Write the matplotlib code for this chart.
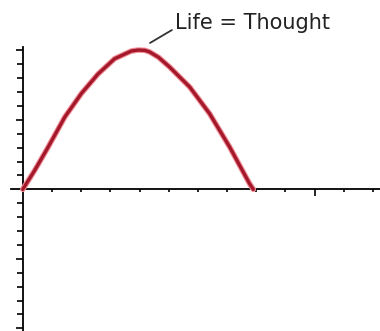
import matplotlib
matplotlib.use("Agg")
import matplotlib.pyplot as plt
from matplotlib.ticker import FixedLocator

# curve (x in ticks, y in ticks)
life_x = [0, 0.41, 0.87, 1.44, 2.01, 2.58, 3.15, 3.72, 3.95, 4.18, 4.35, 4.65, 5.03, 5.72, 6.40, 7.09, 7.77, 7.9]
life_y = [0, 1.37, 3.04, 5.2, 6.9, 8.3, 9.4, 9.95, 10.02, 10.0, 9.88, 9.5, 8.8, 7.36, 5.45, 3.04, 0.41, 0.0]
label = "Life = Thought"

x_major = [10]
x_minor = [i for i in range(1, 13) if i != 10]
y_major = [-10, -5, 5, 10]
y_minor = [i for i in range(-10, 11) if i % 5 != 0]

fig = plt.figure(figsize=(3.8, 3.31), dpi=100)
ax = fig.add_axes([0, 0, 1, 1])
ax.set_xlim(-0.78, 12.24)
ax.set_ylim(-10.19, 13.62)

ax.plot(life_x, life_y, color='#ef8c94', lw=4.0, solid_capstyle='round',
        solid_joinstyle='round', zorder=3)
ax.plot(life_x, life_y, color='#a3182a', lw=2.4, solid_capstyle='round',
        solid_joinstyle='round', zorder=4)

for s in ['top', 'right']:
    ax.spines[s].set_visible(False)
ax.spines['left'].set_position(('data', 0))
ax.spines['bottom'].set_position(('data', 0))
ax.spines['left'].set_bounds(-10.6, 10.25)
ax.spines['bottom'].set_bounds(-0.4, 12.3)
for s in ['left', 'bottom']:
    ax.spines[s].set_linewidth(1.3)
    ax.spines[s].set_zorder(2)

ax.xaxis.set_major_locator(FixedLocator(x_major))
ax.xaxis.set_minor_locator(FixedLocator(x_minor))
ax.yaxis.set_major_locator(FixedLocator(y_major))
ax.yaxis.set_minor_locator(FixedLocator(y_minor))
ax.tick_params(axis='x', which='major', direction='out', length=5, width=1.2, labelbottom=False)
ax.tick_params(axis='x', which='minor', direction='out', length=2.5, width=1.2)
ax.tick_params(axis='y', which='major', direction='out', length=5, width=1.2, labelleft=False)
ax.tick_params(axis='y', which='minor', direction='out', length=4, width=1.2)

ax.annotate('', xy=(4.36, 10.53), xytext=(5.11, 11.46),
            arrowprops=dict(arrowstyle='-', color='#333333', lw=1.3,
                            shrinkA=0, shrinkB=0))
ax.text(5.2, 11.53, label, fontsize=15, color='#222222',
        va='baseline', ha='left')

fig.savefig('out.png', dpi=100)
